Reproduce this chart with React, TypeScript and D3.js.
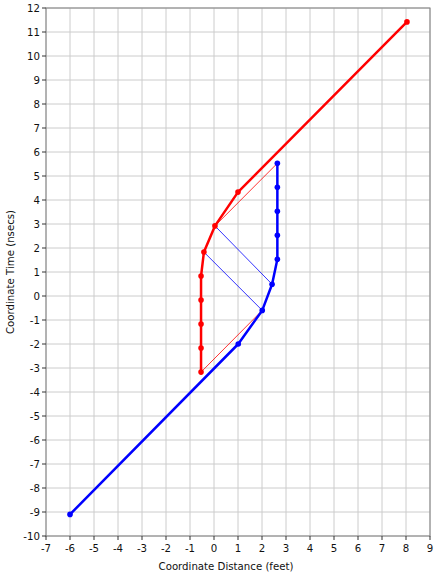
import React from "react";
import * as d3 from "d3";

const redX = [8.04, 1.0, 0.04, -0.42, -0.54, -0.54, -0.54, -0.54, -0.54];
const redY = [11.42, 4.33, 2.92, 1.83, 0.83, -0.17, -1.17, -2.17, -3.17];
const blueX = [-6.0, 1.01, 2.01, 2.42, 2.64, 2.64, 2.64, 2.64, 2.64];
const blueY = [-9.1, -2.0, -0.6, 0.49, 1.53, 2.53, 3.53, 4.53, 5.53];
// thin connector lines
const thinFromX = [0.04, -0.54, 0.04, -0.42];
const thinFromY = [2.92, -3.17, 2.92, 1.83];
const thinToX = [2.64, 2.01, 2.42, 2.01];
const thinToY = [5.53, -0.6, 0.49, -0.6];
const thinColor = ["red", "red", "blue", "blue"];
const xTicks = d3.range(-7, 10);
const yTicks = d3.range(-10, 13);

export default function App() {
  const L = 46, R = 430, T = 8, B = 536;
  const x = d3.scaleLinear().domain([-7, 9]).range([L, R]);
  const y = d3.scaleLinear().domain([-10, 12]).range([B, T]);
  const line = d3.line<[number, number]>().x(d => x(d[0])).y(d => y(d[1]));
  const red = redX.map((v, i) => [v, redY[i]] as [number, number]);
  const blue = blueX.map((v, i) => [v, blueY[i]] as [number, number]);
  const font = "Tahoma, 'DejaVu Sans', sans-serif";
  return (
    <svg width={441} height={576} style={{ position: "absolute", left: 0, top: 0, background: "white" }} fontFamily={font} fontSize={10.2}>
      {xTicks.map(t => (
        <line key={"gx" + t} x1={x(t)} x2={x(t)} y1={T} y2={B} stroke="#cccccc" strokeWidth={1} />
      ))}
      {yTicks.map(t => (
        <line key={"gy" + t} x1={L} x2={R} y1={y(t)} y2={y(t)} stroke="#cccccc" strokeWidth={1} />
      ))}
      <rect x={L} y={T} width={R - L} height={B - T} fill="none" stroke="#808080" strokeWidth={1} />
      {xTicks.map(t => (
        <g key={"tx" + t}>
          <line x1={x(t)} x2={x(t)} y1={B} y2={B + 4} stroke="#333" />
          <text x={x(t)} y={B + 16} textAnchor="middle" fill="#111">{t}</text>
        </g>
      ))}
      {yTicks.map(t => (
        <g key={"ty" + t}>
          <line x1={L - 4} x2={L} y1={y(t)} y2={y(t)} stroke="#333" />
          <text x={L - 6} y={y(t) + 4} textAnchor="end" fill="#111">{t}</text>
        </g>
      ))}
      <text x={226} y={570} textAnchor="middle" fill="#111">Coordinate Distance (feet)</text>
      <text transform="translate(14,272) rotate(-90)" textAnchor="middle" fill="#111">Coordinate Time (nsecs)</text>
      {thinFromX.map((v, i) => (
        <line key={"th" + i} x1={x(v)} y1={y(thinFromY[i])} x2={x(thinToX[i])} y2={y(thinToY[i])} stroke={thinColor[i]} strokeWidth={0.8} />
      ))}
      <path d={line(red) || ""} fill="none" stroke="red" strokeWidth={2.5} strokeLinejoin="round" />
      <path d={line(blue) || ""} fill="none" stroke="blue" strokeWidth={2.5} strokeLinejoin="round" />
      {red.map((d, i) => <circle key={"r" + i} cx={x(d[0])} cy={y(d[1])} r={2.8} fill="red" />)}
      {blue.map((d, i) => <circle key={"b" + i} cx={x(d[0])} cy={y(d[1])} r={2.8} fill="blue" />)}
    </svg>
  );
}
